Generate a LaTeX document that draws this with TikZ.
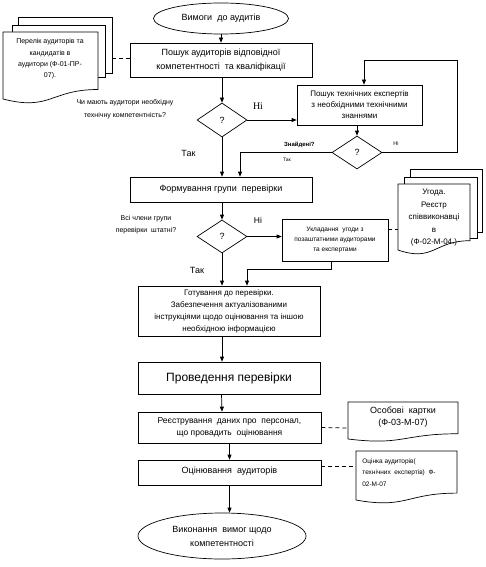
\documentclass[tikz,border=0pt]{standalone}
\usepackage{fontspec}
\setmainfont{Liberation Sans}
\newfontfamily\serifface{Liberation Serif}
\usetikzlibrary{shapes.geometric,arrows.meta,calc}
\newcommand{\docshape}[4]{%
  \draw[fill=white] (#1,#2) -- (#3,#2) -- (#3,{#2+0.802*(#4-#2)})
    .. controls ({(#1+#3)/2},{#2+0.802*(#4-#2)}) and ({(#1+#3)/2},{#2+1.107*(#4-#2)}) ..
    (#1,{#2+0.934*(#4-#2)}) -- cycle;}
\begin{document}
\begin{tikzpicture}[x=1pt,y=-1pt,line width=0.7pt,
  box/.style={draw,rectangle,inner sep=1pt,align=center,fill=white},
  dia/.style={draw,diamond,inner sep=0pt,minimum width=50pt,minimum height=34pt,font=\fontsize{9}{10}\selectfont},
  ell/.style={draw,ellipse,inner sep=0pt,align=center},
  arr/.style={-{Triangle[length=5pt,width=4pt]}},
  dsh/.style={dash pattern=on 4pt off 3pt},
  lbl/.style={inner sep=0pt,align=center}]
\useasboundingbox (0,0) rectangle (486,567);

% ---- main flow nodes
\node[ell,minimum width=135pt,minimum height=31pt,font=\fontsize{9}{11}\selectfont] (start) at (221,18.5) {Вимоги\ \ до аудитів};
\node[box,minimum width=182pt,minimum height=34pt,font=\fontsize{9}{14}\selectfont] (b1) at (221,60)
  {Пошук аудиторів відповідної\\компетентності\ \ та кваліфікації};
\node[dia] (d1) at (222,120) {?};
\node[box,minimum width=125pt,minimum height=40pt,font=\fontsize{8}{11}\selectfont] (b2) at (359.5,105)
  {Пошук технічних експертів\\з необхідними технічними\\знаннями};
\node[dia,minimum height=33pt] (d2) at (357,152.5) {?};
\node[box,minimum width=182pt,minimum height=25pt,font=\fontsize{9}{11}\selectfont] (b3) at (221,189.5)
  {Формування групи\ \ перевірки};
\node[dia,minimum height=33pt] (d3) at (222,236.5) {?};
\node[box,minimum width=106pt,minimum height=42pt,font=\fontsize{6.5}{10}\selectfont] (b4) at (335,240)
  {Укладання\ \ угоди з\\позаштатними аудиторами\\та експертами};
\node[box,minimum width=182pt,minimum height=50pt,font=\fontsize{8}{12}\selectfont] (b5) at (229,311)
  {Готування до перевірки.\\Забезпечення актуалізованими\\інструкціями щодо оцінювання та іншою\\необхідною інформацією};
\node[box,minimum width=182pt,minimum height=32pt,font=\fontsize{12}{14}\selectfont] (b6) at (229,378)
  {Проведення перевірки};
\node[box,minimum width=183pt,minimum height=31pt,font=\fontsize{8.5}{11.5}\selectfont] (b7) at (229.5,427.5)
  {Реєстрування\ \ даних про\ \ персонал,\\що провадить\ \ оцінювання};
\node[box,minimum width=183pt,minimum height=25pt,font=\fontsize{9}{11}\selectfont] (b8) at (229.5,472.5)
  {\raisebox{5pt}{Оцінювання\ \ аудиторів}};
\node[ell,minimum width=168pt,minimum height=46pt,font=\fontsize{9}{14}\selectfont] (end) at (222,536)
  {Виконання\ \ вимог щодо\\компетентності};

% ---- documents
\draw[fill=white] (18,17) rectangle (112,73);
\draw[fill=white] (12,25) rectangle (105,77);
\docshape{3}{32}{98}{103.7}
\node[lbl,font=\fontsize{7}{11.3}\selectfont] (doc1) at (50,59) {Перелік аудиторів та\\кандидатів в\\аудитори (Ф-01-ПР-\\07).};
\coordinate (doc1e) at (112,58);

\draw[fill=white] (410,169) rectangle (482,232);
\draw[fill=white] (404,177) rectangle (477,238);
\docshape{398}{184}{470}{254.7}
\node[lbl,font=\fontsize{8}{12.5}\selectfont] (doc2) at (434,218) {Угода.\\Реєстр\\співвиконавці\\в\\(Ф-02-М-04.)};
\coordinate (doc2w) at (398,229);

\docshape{348}{402}{458}{441.6}
\node[lbl,font=\fontsize{9}{12}\selectfont] (doc3) at (403,417) {Особові\ \ картки\\(Ф-03-М-07)};
\coordinate (doc3w) at (348,428);

\docshape{356}{451}{457}{503.5}
\node[lbl,align=left,font=\fontsize{6.5}{11.5}\selectfont,anchor=west] (doc4) at (362,472.5) {Оцінка аудиторів(\\технічних\ \ експертів)\ \ Ф-\\02-М-07};
\coordinate (doc4w) at (356,466);

% ---- labels
\node[lbl,font=\fontsize{7}{12.5}\selectfont] (q1) at (125,109) {Чи мають аудитори необхідну\\технічну компетентність?};
\node[lbl,font=\serifface\fontsize{10}{11}\selectfont] (ni1) at (258,106) {Ні};
\node[lbl,font=\fontsize{9}{11}\selectfont] (tak1) at (188.5,153) {Так};
\node[lbl,font=\fontsize{6}{7}\selectfont\bfseries,anchor=east] (zn) at (315,144.5) {Знайдені?};
\node[lbl,font=\fontsize{5}{6}\selectfont] (tak2) at (287,160) {Так};
\node[lbl,font=\fontsize{5.5}{6}\selectfont] (ni2) at (396,144) {Ні};
\node[lbl,font=\fontsize{7}{12}\selectfont] (q2) at (146,225) {Всі члени групи\\перевірки\ \ штатні?};
\node[lbl,font=\fontsize{8.5}{10}\selectfont] (ni3) at (258,220) {Ні};
\node[lbl,font=\fontsize{9}{11}\selectfont] (tak3) at (197,270) {Так};

% ---- connectors
\draw[arr] (start.south) -- (b1.north);
\draw[arr] (d1.north |- b1.south) -- (d1.north);
\draw[arr] (d1.east) -- (d1.east -| b2.west);
\draw[arr] (d2.north |- b2.south) -- (d2.north);
\coordinate (lr) at (457,60);
\draw[arr] (d2.east) -| (lr) -| ([xshift=4.5pt]b2.north);
\draw[arr] (d2.west) -| ([xshift=19pt]b3.north);
\draw[arr] (d1.south) -- (d1.south |- b3.north);
\draw[arr] (d3.north |- b3.south) -- (d3.north);
\draw[arr] (d3.east) -- (d3.east -| b4.west);
\coordinate (j4) at (247,269);
\draw[arr] ([xshift=-4pt]b4.south) |- (j4) -- (j4 |- b5.north);
\draw[arr] (d3.south) -- (d3.south |- b5.north);
\draw[arr] ([xshift=-7pt]b5.south) -- ([xshift=-7pt]b6.north);
\draw[arr] ([xshift=-7.5pt]b6.south) -- ([xshift=-7.5pt]b7.north);
\draw[arr] (b7.south) -- (b8.north);
\draw[arr] (b8.south) -- (b8.south |- end.north);

\draw[dsh] (doc1e) -- (doc1e -| b1.west);
\draw[dsh] ([yshift=11pt]b4.east) -- (doc2w);
\draw[dsh] (b7.east) -- (doc3w);
\draw[dsh] ([yshift=6.5pt]b8.east) -- (doc4w);
\end{tikzpicture}
\end{document}
